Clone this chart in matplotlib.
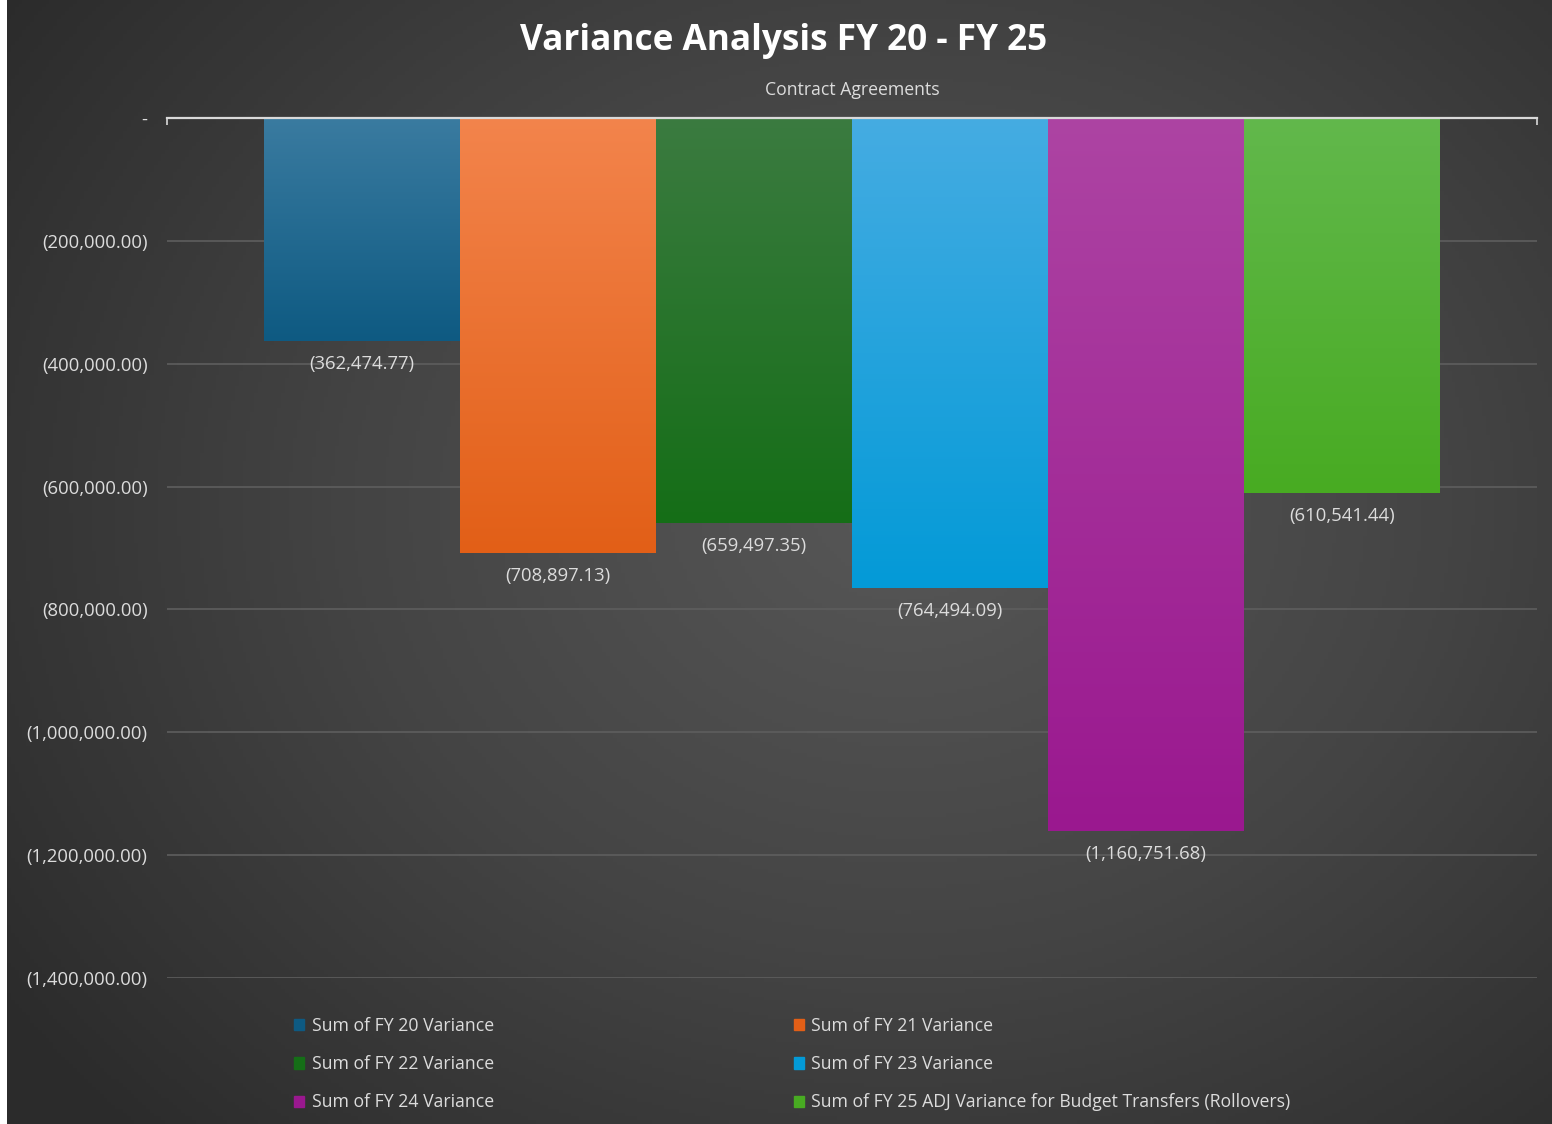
import numpy as np
import matplotlib.pyplot as plt
from matplotlib.colors import LinearSegmentedColormap

# data
series = ['Sum of FY 20 Variance', 'Sum of FY 21 Variance', 'Sum of FY 22 Variance',
          'Sum of FY 23 Variance', 'Sum of FY 24 Variance',
          'Sum of FY 25 ADJ Variance for Budget Transfers (Rollovers)']
values = [-362474.77, -708897.13, -659497.35, -764494.09, -1160751.68, -610541.44]
category = 'Contract Agreements'
yticks = [0, -200000, -400000, -600000, -800000, -1000000, -1200000, -1400000]

# bar colours: (top, bottom)
colors = [('#3a7ba0', '#0e5a82'), ('#f3844c', '#e25f17'), ('#3b7b40', '#156e17'),
          ('#45ace2', '#039ad7'), ('#ad44a3', '#9a188f'), ('#62b84c', '#48ab22')]

plt.rcParams['font.family'] = ['Open Sans', 'DejaVu Sans']
txt = '#dcdcdc'

fig = plt.figure(figsize=(15.52, 11.24), dpi=100)
fig.patch.set_facecolor('white')

# background with radial-ish gradient
bg = fig.add_axes([7 / 1552, 0, 1 - 7 / 1552, 1], zorder=0)
yy, xx = np.mgrid[0:1:300j, 0:1:400j]
d = np.sqrt(((xx - 0.58) / 0.75) ** 2 + ((yy - 0.45) / 0.85) ** 2)
bgcmap = LinearSegmentedColormap.from_list('bg', ['#575757', '#444444', '#2b2b2b'])
bg.imshow(d, cmap=bgcmap, aspect='auto', extent=[0, 1, 0, 1], vmin=0, vmax=0.95)
bg.set_axis_off()

ax = fig.add_axes([167 / 1552, 1 - 978 / 1124, (1537 - 167) / 1552, (978 - 118) / 1124], zorder=1)
ax.set_facecolor('none')

w = 196 / 1370
xs = [(i - 2.5) * w for i in range(len(values))]
bars = ax.bar(xs, values, width=w, color=[c[1] for c in colors], zorder=2, label=None)
for b, (ctop, cbot) in zip(bars, colors):
    cm = LinearSegmentedColormap.from_list('g', [ctop, cbot])
    x0, y0 = b.get_x(), b.get_y()
    grad = np.linspace(0, 1, 256).reshape(-1, 1)
    im = ax.imshow(grad, cmap=cm, aspect='auto', zorder=3,
                   extent=[x0, x0 + b.get_width(), y0 + b.get_height(), y0])
    im.set_clip_path(b)

for x, v in zip(xs, values):
    ax.annotate('({:,.2f})'.format(abs(v)), (x, v), xytext=(0, -16.5), textcoords='offset points',
                ha='center', va='center', color=txt, fontsize=13.3, zorder=5)

ax.set_xlim(-0.5, 0.5)
ax.set_ylim(-1400000, 0)
ax.set_yticks(yticks)
ax.set_yticklabels(['-'] + ['({:,.2f})'.format(abs(t)) for t in yticks[1:]])
ax.tick_params(axis='y', length=0, pad=14, labelsize=13.3, labelcolor=txt)
ax.grid(axis='y', color='#5e5e5e', linewidth=1.2, zorder=1)

ax.xaxis.tick_top()
ax.set_xticks([0])
ax.set_xticklabels([category])
ax.set_xticks([-0.5, 0.5], minor=True)
ax.tick_params(axis='x', which='major', length=0, pad=14, labelsize=12.7, labelcolor=txt)
ax.tick_params(axis='x', which='minor', length=5, direction='in', color='#d9d9d9', width=1.2)

for s in ['left', 'right', 'bottom']:
    ax.spines[s].set_visible(False)
ax.spines['top'].set_color('#d9d9d9')
ax.spines['top'].set_linewidth(1.6)
ax.spines['top'].set_zorder(6)

fig.text(784 / 1552, 1 - 41 / 1124, 'Variance Analysis FY 20 - FY 25', ha='center', va='center',
         color='white', fontsize=25.3, fontweight='bold')

# legend
handles = [plt.Rectangle((0, 0), 1, 1, color=c[1]) for c in colors]
order = [0, 2, 4, 1, 3, 5]
leg = fig.legend([handles[i] for i in order], [series[i] for i in order], ncol=2,
                 loc='upper left', bbox_to_anchor=(278 / 1552, 1 - 1001 / 1124), frameon=False,
                 fontsize=12.7, labelcolor=txt, handlelength=0.6, handleheight=0.6,
                 handletextpad=0.4, columnspacing=17.0, labelspacing=1.15)

fig.savefig('out.png', dpi=100, facecolor=fig.get_facecolor())
